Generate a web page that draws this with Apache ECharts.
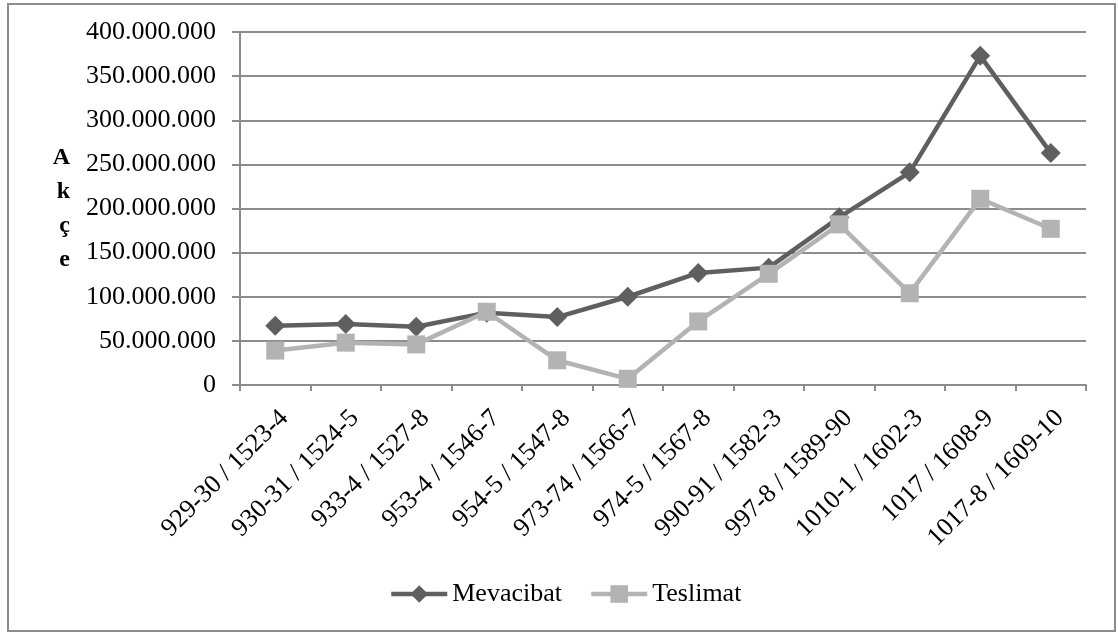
<!DOCTYPE html>
<html>
<head>
<meta charset="utf-8">
<script src="https://cdn.jsdelivr.net/npm/echarts@6/dist/echarts.min.js"></script>
<style>
html,body{margin:0;padding:0;background:#fff;}
#c{width:1118px;height:632px;}
</style>
</head>
<body>
<div id="c"></div>
<script>
const categories = ['929-30 / 1523-4','930-31 / 1524-5','933-4 / 1527-8','953-4 / 1546-7','954-5 / 1547-8','973-74 / 1566-7','974-5 / 1567-8','990-91 / 1582-3','997-8 / 1589-90','1010-1 / 1602-3','1017 / 1608-9','1017-8 / 1609-10'];
const mevacibat = [67000000, 69000000, 66000000, 82000000, 77000000, 100000000, 127000000, 133000000, 190000000, 241000000, 373000000, 263000000];
const teslimat = [39000000, 48000000, 46000000, 83000000, 28000000, 7000000, 72000000, 126000000, 182000000, 104000000, 211000000, 177000000];
const yTicks = [0, 50000000, 100000000, 150000000, 200000000, 250000000, 300000000, 350000000, 400000000];

function fmt(v){ return String(v).replace(/\B(?=(\d{3})+(?!\d))/g, '.'); }

const font = '"Liberation Serif", "Times New Roman", serif';
const chart = echarts.init(document.getElementById('c'), null, {renderer:'canvas'});
chart.setOption({
  animation:false,
  backgroundColor:'#fff',
  textStyle:{fontFamily:font},
  graphic:[{type:'rect', shape:{x:8, y:4, width:1107, height:627}, style:{fill:'none', stroke:'#8c8c8c', lineWidth:2}, silent:true}],
  grid:{left:240, right:32, top:32, bottom:247, containLabel:false},
  legend:{
    top:576, left:384,
    itemWidth:56, itemHeight:22, itemGap:27,
    lineStyle:{width:4.5},
    textStyle:{fontFamily:font, fontSize:26, color:'#000'},
    data:['Mevacibat','Teslimat']
  },
  xAxis:{
    type:'category', data:categories, boundaryGap:true,
    axisLine:{lineStyle:{color:'#8c8c8c', width:2}},
    axisTick:{show:true, length:6, lineStyle:{color:'#8c8c8c', width:2}, alignWithLabel:false},
    axisLabel:{rotate:45, interval:0, fontFamily:font, fontSize:26, color:'#000', margin:20,
               align:'right', verticalAlign:'top'}
  },
  yAxis:{
    type:'value', min:yTicks[0], max:yTicks[yTicks.length-1], interval:yTicks[1]-yTicks[0],
    name:'A\nk\nç\ne', nameLocation:'middle', nameRotate:0, nameGap:170,
    nameTextStyle:{fontFamily:font, fontSize:24, fontWeight:'bold', color:'#000', lineHeight:34, padding:[14,0,0,0]},
    axisLine:{show:true, lineStyle:{color:'#8c8c8c', width:2}},
    axisTick:{show:true, length:8, lineStyle:{color:'#8c8c8c', width:2}},
    splitLine:{lineStyle:{color:'#8c8c8c', width:2}},
    axisLabel:{fontFamily:font, fontSize:26, color:'#000', margin:24, formatter:fmt}
  },
  series:[
    {name:'Mevacibat', type:'line', data:mevacibat, symbol:'diamond', symbolSize:20,
     lineStyle:{color:'#5f5f5f', width:4.5}, itemStyle:{color:'#5f5f5f'}, z:2},
    {name:'Teslimat', type:'line', data:teslimat, symbol:'rect', symbolSize:18,
     lineStyle:{color:'#b3b3b3', width:4.5}, itemStyle:{color:'#b3b3b3'}, z:3}
  ]
});
</script>
</body>
</html>
